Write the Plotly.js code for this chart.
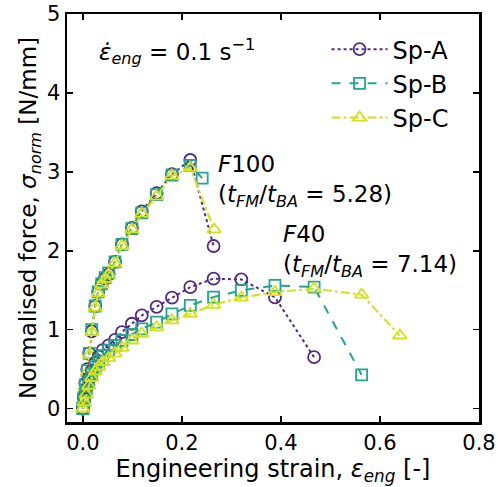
<!DOCTYPE html>
<html>
<head>
<meta charset="utf-8">
<script src="https://cdn.plot.ly/plotly-3.0.1.min.js"></script>
<style>html,body{margin:0;padding:0;background:#fff;}#chart{width:498px;height:487px;}</style>
</head>
<body>
<div id="chart"></div>
<script>
// F100 test (steep curves)
const strainF100 = [0, 0.002, 0.005, 0.009, 0.013, 0.018, 0.025, 0.031, 0.038, 0.045, 0.052, 0.065, 0.079, 0.099, 0.119, 0.149, 0.18, 0.217];
const spA_F100_x = strainF100.concat([0.264]);
const spA_F100_y = [0, 0.15, 0.32, 0.50, 0.70, 0.98, 1.30, 1.48, 1.58, 1.65, 1.70, 1.86, 2.08, 2.29, 2.50, 2.73, 2.97, 3.15, 2.06];
const spB_F100_x = strainF100.concat([0.241]);
const spB_F100_y = [0, 0.14, 0.30, 0.48, 0.70, 1.00, 1.30, 1.48, 1.58, 1.66, 1.72, 1.86, 2.08, 2.28, 2.48, 2.71, 2.96, 3.08, 2.92];
const spC_F100_x = strainF100.concat([0.265]);
const spC_F100_y = [0, 0.12, 0.28, 0.46, 0.68, 0.97, 1.28, 1.46, 1.57, 1.64, 1.70, 1.84, 2.06, 2.27, 2.47, 2.69, 2.95, 3.05, 2.27];

// F40 test (flatter curves)
const strainF40 = [0, 0.003, 0.007, 0.012, 0.018, 0.025, 0.032, 0.040, 0.052, 0.065, 0.079, 0.099, 0.119, 0.149, 0.18, 0.217, 0.264, 0.32, 0.388, 0.467, 0.563, 0.64];
const spA_F40_y = [0, 0.12, 0.25, 0.38, 0.48, 0.58, 0.66, 0.74, 0.80, 0.87, 0.97, 1.075, 1.18, 1.29, 1.405, 1.54, 1.646, 1.637, 1.41, 0.651];
const spB_F40_y = [0, 0.10, 0.22, 0.34, 0.44, 0.53, 0.60, 0.67, 0.74, 0.80, 0.863, 0.939, 1.01, 1.095, 1.20, 1.307, 1.413, 1.497, 1.56, 1.54, 0.427];
const spC_F40_y = [0, 0.08, 0.18, 0.29, 0.39, 0.47, 0.53, 0.59, 0.64, 0.70, 0.77, 0.863, 0.948, 1.03, 1.117, 1.20, 1.316, 1.405, 1.476, 1.52, 1.443, 0.926];

const seriesNames = ['Sp-A', 'Sp-B', 'Sp-C'];
const xTicks = [0, 0.2, 0.4, 0.6, 0.8];
const xTickText = ['0.0', '0.2', '0.4', '0.6', '0.8'];
const yTicks = [0, 1, 2, 3, 4, 5];

const styles = {
  'Sp-A': {color: '#512a84', dash: 'dot', symbol: 'circle-open', size: 12},
  'Sp-B': {color: '#26a391', dash: 'dash', symbol: 'square-open', size: 11},
  'Sp-C': {color: '#d2e21c', dash: 'dashdot', symbol: 'triangle-up-open', size: 12}
};

function mk(name, x, y, show) {
  const s = styles[name];
  return {
    x: x, y: y, name: name, type: 'scatter', mode: 'lines+markers',
    legendgroup: name, showlegend: show,
    line: {color: s.color, dash: s.dash, width: 2},
    marker: {symbol: s.symbol, size: s.size, color: s.color, line: {width: 1.8, color: s.color}}
  };
}

const data = [
  mk('Sp-A', spA_F100_x, spA_F100_y, true),
  mk('Sp-B', spB_F100_x, spB_F100_y, true),
  mk('Sp-C', spC_F100_x, spC_F100_y, true),
  mk('Sp-A', strainF40.slice(0, spA_F40_y.length), spA_F40_y, false),
  mk('Sp-B', strainF40.slice(0, spB_F40_y.length), spB_F40_y, false),
  mk('Sp-C', strainF40.slice(0, spC_F40_y.length), spC_F40_y, false)
];

const FONT = 'DejaVu Sans, sans-serif';
const tickFont = {family: FONT, size: 21, color: '#000'};
const layout = {
  width: 498, height: 487,
  margin: {l: 67, r: 19, t: 14, b: 65},
  paper_bgcolor: '#fff', plot_bgcolor: '#fff',
  showlegend: true,
  legend: {x: 0.63, y: 0.968, xanchor: 'left', yanchor: 'top', bgcolor: 'rgba(0,0,0,0)',
           font: {family: FONT, size: 24, color: '#000'}, tracegroupgap: 0, itemwidth: 56},
  xaxis: {
    range: [-0.032, 0.8], tickvals: xTicks, ticktext: xTickText,
    ticks: 'inside', ticklen: 6, tickwidth: 1.5, tickcolor: '#000',
    showline: true, linecolor: '#000', linewidth: 2.5, mirror: 'ticks',
    showgrid: false, zeroline: false, tickfont: tickFont,
    title: {text: 'Engineering strain, <i>ε</i><sub><i>eng</i></sub> [-]', font: {family: FONT, size: 24, color: '#000'}, standoff: 2}
  },
  yaxis: {
    range: [-0.17, 5], tickvals: yTicks,
    ticks: 'inside', ticklen: 6, tickwidth: 1.5, tickcolor: '#000',
    showline: true, linecolor: '#000', linewidth: 2.5, mirror: 'ticks',
    showgrid: false, zeroline: false, tickfont: tickFont,
    title: {text: 'Normalised force, <i>σ</i><sub><i>norm</i></sub> [N/mm]', font: {family: FONT, size: 23, color: '#000'}, standoff: 4}
  },
  annotations: [
    {xref: 'paper', yref: 'paper', x: 0.073, y: 0.907, xanchor: 'left', yanchor: 'middle', showarrow: false,
     text: '<i>ε̇</i><sub><i>eng</i></sub> = 0.1 s<sup>−1</sup>', font: {family: FONT, size: 23, color: '#000'}},
    {xref: 'paper', yref: 'paper', x: 0.362, y: 0.59, xanchor: 'left', yanchor: 'middle', showarrow: false, align: 'left',
     text: '<i>F</i>100<br>(<i>t</i><sub><i>FM</i></sub>/<i>t</i><sub><i>BA</i></sub> = 5.28)', font: {family: FONT, size: 23, color: '#000'}},
    {xref: 'paper', yref: 'paper', x: 0.52, y: 0.42, xanchor: 'left', yanchor: 'middle', showarrow: false, align: 'left',
     text: '<i>F</i>40<br>(<i>t</i><sub><i>FM</i></sub>/<i>t</i><sub><i>BA</i></sub> = 7.14)', font: {family: FONT, size: 23, color: '#000'}}
  ]
};

Plotly.newPlot('chart', data, layout, {displayModeBar: false, staticPlot: true});
</script>
</body>
</html>
